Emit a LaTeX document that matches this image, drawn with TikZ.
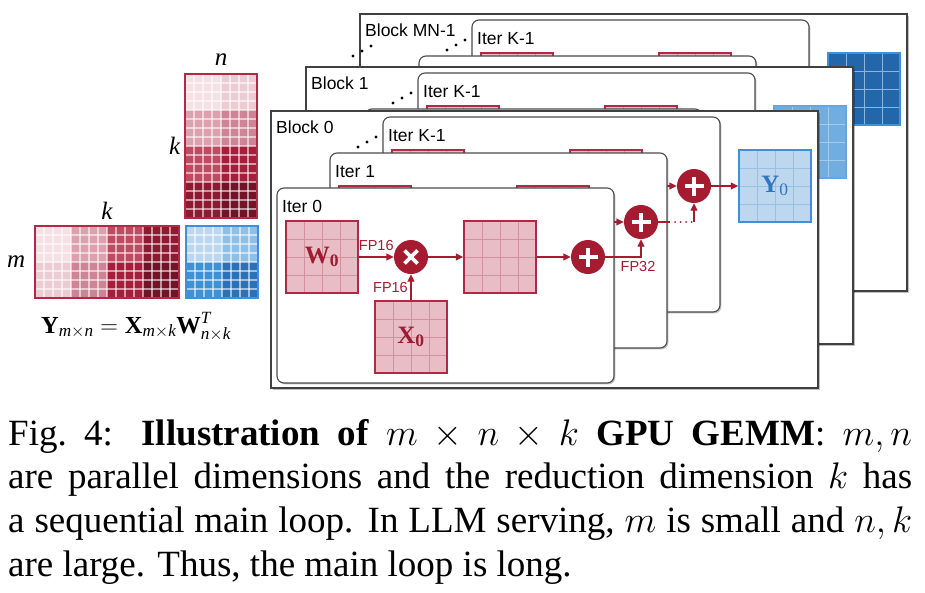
\RequirePackage{fix-cm}
\documentclass[tikz,border=0pt]{standalone}
\usepackage{amsmath}
\usepackage{fontspec}
\setmainfont{Liberation Serif}
\newfontfamily\labelsans{Liberation Sans}
\usetikzlibrary{arrows.meta,calc,positioning,shadows}

\definecolor{gemmred}{HTML}{A51C30}
\definecolor{tilefill}{HTML}{E8BDC6}
\definecolor{tilegrid}{HTML}{D3909F}
\definecolor{tileedge}{HTML}{B02A45}
\definecolor{tiletext}{HTML}{9E1B32}
\definecolor{yfilla}{HTML}{BDD7EE}
\definecolor{ygrida}{HTML}{95C1E8}
\definecolor{yfillb}{HTML}{72ADDF}
\definecolor{ygridb}{HTML}{A3CBEC}
\definecolor{yfillc}{HTML}{2366A9}
\definecolor{ygridc}{HTML}{8DB6DE}
\definecolor{yedge}{HTML}{3F8FDB}
\definecolor{ytext}{HTML}{2F77C2}
% k-bands of the input matrices, light half / dark half
\definecolor{sha}{HTML}{F5E0E4}\definecolor{shb}{HTML}{ECCCD3}
\definecolor{shc}{HTML}{DCA1AD}\definecolor{shd}{HTML}{CD8596}
\definecolor{she}{HTML}{BF4B63}\definecolor{shf}{HTML}{A61E3B}
\definecolor{shg}{HTML}{8E1A31}\definecolor{shh}{HTML}{731328}
\definecolor{qa}{HTML}{BCD6EF}\definecolor{qb}{HTML}{8DBFE7}
\definecolor{qc}{HTML}{3E90D7}\definecolor{qd}{HTML}{2B71B7}

% 4x4 grid inside a tile
\newcommand\tilegrid[1]{%
  \foreach \q in {0.25,0.5,0.75}{%
    \draw[#1, line width=1pt]
      ($(path picture bounding box.north west)!\q!(path picture bounding box.north east)$) --
      ($(path picture bounding box.south west)!\q!(path picture bounding box.south east)$);
    \draw[#1, line width=1pt]
      ($(path picture bounding box.north west)!\q!(path picture bounding box.south west)$) --
      ($(path picture bounding box.north east)!\q!(path picture bounding box.south east)$);}}

\tikzset{
  tile/.style={minimum size=72pt, inner sep=0pt, line width=1.4pt},
  redtile/.style={tile, fill=tilefill, draw=tileedge, path picture={\tilegrid{tilegrid}}},
  tilelabel/.style={text=tiletext, font=\fontsize{25}{25}\selectfont\bfseries, inner sep=0pt},
  ytilea/.style={tile, fill=yfilla, draw=yedge, path picture={\tilegrid{ygrida}}},
  ytileb/.style={tile, fill=yfillb, draw=yedge!80!white, path picture={\tilegrid{ygridb}}},
  ytilec/.style={tile, fill=yfillc, draw=yedge, path picture={\tilegrid{ygridc}}},
  opcirc/.style={circle, fill=gemmred, minimum size=34pt, inner sep=0pt},
  opmark/.style={draw=white, line width=3.8pt},
  flow/.style={draw=gemmred, line width=1.4pt, -{Triangle[length=7.5pt,width=7pt]}},
  flowline/.style={draw=gemmred, line width=1.4pt},
  fplabel/.style={font=\labelsans\fontsize{14.5}{14.5}\selectfont, text=gemmred, inner sep=1pt},
  framelabel/.style={font=\labelsans\fontsize{17.5}{17.5}\selectfont, anchor=base west, inner sep=0pt},
  blockframe/.style={draw=black!75, fill=white, line width=1.1pt,
    drop shadow={shadow xshift=1.6pt, shadow yshift=-1.6pt, opacity=0.25, fill=black}},
  iterframe/.style={draw=black!70, fill=white, line width=1.1pt, rounded corners=7pt,
    drop shadow={shadow xshift=1.4pt, shadow yshift=-1.4pt, opacity=0.25, fill=black}},
  cellgap/.style={draw=white, opacity=0.55, line width=1.3pt},
  matedge/.style={draw=tileedge, line width=1.4pt, inner sep=0pt},
  dimlabel/.style={font=\fontsize{25}{25}\selectfont\itshape, inner sep=0pt},
  caption/.style={text width=904pt, align=justify, inner sep=0pt,
    font=\fontsize{37}{43.6}\selectfont},
}

% one main-loop iteration: #1,#2 shift, #3 label, #4 name tag, #5 texts shown (1/0)
\newcommand\gemmiter[5]{%
  \begin{scope}[shift={(#1,#2)}]
    \draw[iterframe] (0,0) rectangle (337,195);
    \node[framelabel] at (5,24) {#3};
    \node[redtile] (#4w) at (45,69) {};
    \node[opcirc] (#4mul) at (134,69) {};
    \draw[opmark] ([shift={(-6.5,-6.5)}]#4mul.center) -- ([shift={(6.5,6.5)}]#4mul.center);
    \draw[opmark] ([shift={(-6.5,6.5)}]#4mul.center) -- ([shift={(6.5,-6.5)}]#4mul.center);
    \node[redtile] (#4mid) at (223,69) {};
    \node[opcirc] (#4add) at (311,69) {};
    \draw[opmark] ([xshift=-9.5pt]#4add.center) -- ([xshift=9.5pt]#4add.center);
    \draw[opmark] ([yshift=-9.5pt]#4add.center) -- ([yshift=9.5pt]#4add.center);
    \node[redtile] (#4x) at (134,149) {};
    \draw[flow] (#4w) -- (#4mul);
    \draw[flow] (#4x) -- (#4mul);
    \draw[flow] (#4mul) -- (#4mid);
    \draw[flow] (#4mid) -- (#4add);
    \ifnum#5=1
      \node[tilelabel] at (#4w) {W\textsubscript{0}};
      \node[tilelabel] at (#4x) {X\textsubscript{0}};
      \path (#4w) -- node[fplabel, above=5pt] {FP16} (#4mul);
      \path (#4x) -- node[fplabel, left=2pt] {FP16} (#4mul);
    \fi
  \end{scope}}

% one thread block: #1,#2 position, #3 label, #4 output tile, #5 name tag, #6 front (1/0)
\newcommand\gemmblock[6]{%
  \begin{scope}[shift={(#1,#2)}]
    \draw[blockframe] (0,0) rectangle (547,277);
    \node[framelabel] at (5,22) {#3};
    \gemmiter{112}{6}{Iter K-1}{#5k}{0}
    \ifnum#6=1
      \gemmiter{59}{42}{Iter 1}{#5b}{0}
      \gemmiter{6}{77}{Iter 0}{#5a}{1}
    \else
      \gemmiter{59}{42}{}{#5b}{0}
      \gemmiter{6}{77}{}{#5a}{0}
    \fi
    \foreach \p in {(87,36),(96,31),(105,26)} \fill \p circle[radius=1.7pt];
    \node[#4] (#5y) at (504,75) {};
    \draw[flow] (#5aadd) -| coordinate[pos=0.5] (#5turn) (#5badd);
    \ifnum#6=1
      \node[fplabel, below=3pt, xshift=-3pt] at (#5turn) {FP32};
    \fi
    \draw[flowline] (#5badd.east) -- ++(12,0) coordinate (#5gap);
    \draw[flowline, line cap=round, dash pattern=on 0pt off 5.5pt, line width=2pt]
      ([xshift=5pt]#5gap) -- (#5kadd |- #5badd);
    \draw[flow] (#5kadd |- #5badd) -- (#5kadd);
    \draw[flow] (#5kadd) -- (#5y);
  \end{scope}}

\begin{document}
\begin{tikzpicture}[x=1pt, y=-1pt]
  \useasboundingbox (0,0) rectangle (925,592);

  % input and output matrices
  \foreach \k/\cola/\colb in {0/sha/shb, 1/shc/shd, 2/she/shf, 3/shg/shh}{
    \fill[\cola] (185,74+36*\k) rectangle ++(36,36);
    \fill[\colb] (221,74+36*\k) rectangle ++(36,36);
    \fill[\cola] (35+36*\k,226) rectangle ++(36,36);
    \fill[\colb] (35+36*\k,262) rectangle ++(36,36);
  }
  \fill[qa] (186,226) rectangle ++(36,36);
  \fill[qb] (222,226) rectangle ++(36,36);
  \fill[qc] (186,262) rectangle ++(36,36);
  \fill[qd] (222,262) rectangle ++(36,36);
  \foreach \i in {1,...,7} {
    \draw[cellgap] (185+9*\i,74) -- ++(0,144);
    \draw[cellgap] (35,226+9*\i) -- ++(144,0);
    \draw[cellgap] (186+9*\i,226) -- ++(0,72);
    \draw[cellgap] (186,226+9*\i) -- ++(72,0);
  }
  \foreach \i in {1,...,15} {
    \draw[cellgap] (185,74+9*\i) -- ++(72,0);
    \draw[cellgap] (35+9*\i,226) -- ++(0,72);
  }
  \node[matedge, minimum width=72pt, minimum height=144pt] (wmat) at (221,146) {};
  \node[matedge, minimum width=144pt, minimum height=72pt] (xmat) at (107,262) {};
  \node[matedge, draw=yedge, minimum size=72pt] (ymat) at (222,262) {};
  \node[dimlabel, above=8pt of wmat] (nlab) {n};
  \node[dimlabel, left=4pt of wmat] (klab) {k};
  \node[dimlabel, above=6pt of xmat] (kxlab) {k};
  \node[dimlabel, left=9pt of xmat] (mlab) {m};
  \node[anchor=base, inner sep=0pt, font=\fontsize{24.5}{24.5}\selectfont] (eq) at (136,333)
    {$\textbf{Y}_{\textit{m}\times\textit{n}} = \textbf{X}_{\textit{m}\times\textit{k}}\textbf{W}^{\textit{T}}_{\textit{n}\times\textit{k}}$};

  % thread blocks, back to front
  \gemmblock{360}{14}{Block MN-1}{ytilec}{bz}{0}
  \gemmblock{306}{67}{Block 1}{ytileb}{bb}{0}
  \gemmblock{271}{111}{Block 0}{ytilea}{ba}{1}
  \node[text=ytext, font=\fontsize{25}{25}\selectfont] at (bay) {\textbf{Y}\textsubscript{0}};
  \foreach \p in {(353,56),(362,51),(371,46)} \fill \p circle[radius=1.7pt];

  % caption
  \node[caption, anchor=north west] (cap) at (8,419)
    {Fig.~4: \textbf{Illustration of} $m\times n\times k$ \textbf{GPU GEMM}: $m,n$\linebreak
     are parallel dimensions and the reduction dimension $k$ has\linebreak
     a sequential main loop. In LLM serving, $m$ is small and $n,k$\linebreak
     are large. Thus, the main loop is long.};
\end{tikzpicture}
\end{document}
